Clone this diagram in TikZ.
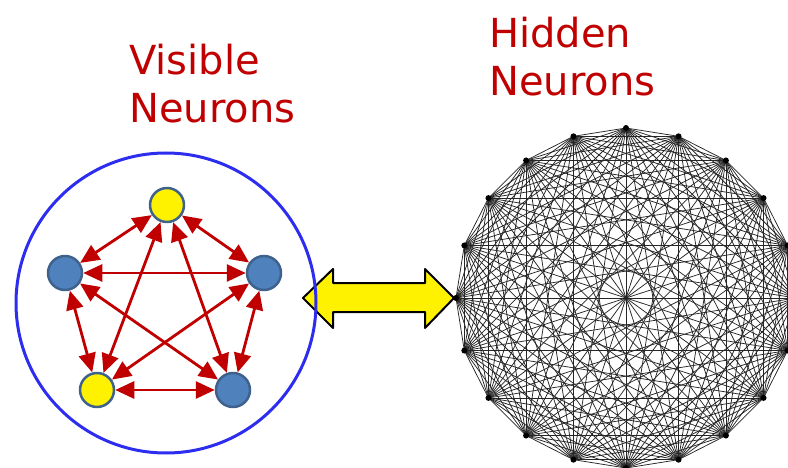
\documentclass[tikz,border=0pt]{standalone}
\usepackage{fontspec}
\setmainfont{DejaVu Sans}
\usetikzlibrary{arrows.meta}

\definecolor{darkred}{RGB}{192,0,0}
\definecolor{nodeblue}{RGB}{79,129,189}
\definecolor{nodeedge}{RGB}{62,98,140}
\definecolor{ringblue}{RGB}{45,45,240}

\begin{document}
\begin{tikzpicture}[x=1pt,y=-1pt,>={Triangle[length=19pt,width=17pt]},line join=round]
  \useasboundingbox (0,0) rectangle (788,468);
  \tikzset{
    neuron/.style={circle,draw=nodeedge,line width=2.5pt,minimum size=34pt,inner sep=0pt},
    link/.style={<->,darkred,line width=2.8pt},
    hedge/.style={black!85,line width=0.75pt},
    title/.style={darkred,anchor=base west,align=left,inner sep=0pt,font=\fontsize{40}{48}\selectfont}
  }

  \node[title] (vistitle) at (129,123) {Visible\\Neurons};
  \node[title] (hidtitle) at (489,96) {Hidden\\Neurons};

  \foreach \i in {1,...,20}
    \coordinate (h\i) at ({626+170*cos(18*\i)},{298+170*sin(18*\i)});
  \foreach \i in {1,...,19}{
    \pgfmathtruncatemacro\k{\i+1}
    \foreach \j in {\k,...,20}
      \draw[hedge] (h\i) -- (h\j);
  }
  \foreach \i in {1,...,20}
    \fill (h\i) circle (3pt);

  \draw[fill=yellow,line width=2pt] (303,298) -- (333,269) -- (333,283) -- (425,283) -- (425,269)
    -- (454,298) -- (425,328) -- (425,312) -- (333,312) -- (333,328) -- cycle;

  \draw[ringblue,line width=3pt] (166,303) circle (150pt);

  \node[neuron,fill=yellow] (v1) at (167,205) {};
  \node[neuron,fill=nodeblue] (v2) at (65,273) {};
  \node[neuron,fill=nodeblue] (v3) at (264,273) {};
  \node[neuron,fill=yellow] (v4) at (97,390) {};
  \node[neuron,fill=nodeblue] (v5) at (233,390) {};

  \foreach \a/\b in {v1/v2,v1/v3,v1/v4,v1/v5,v2/v3,v2/v4,v2/v5,v3/v4,v3/v5,v4/v5}
    \draw[link] (\a) -- (\b);
\end{tikzpicture}
\end{document}
